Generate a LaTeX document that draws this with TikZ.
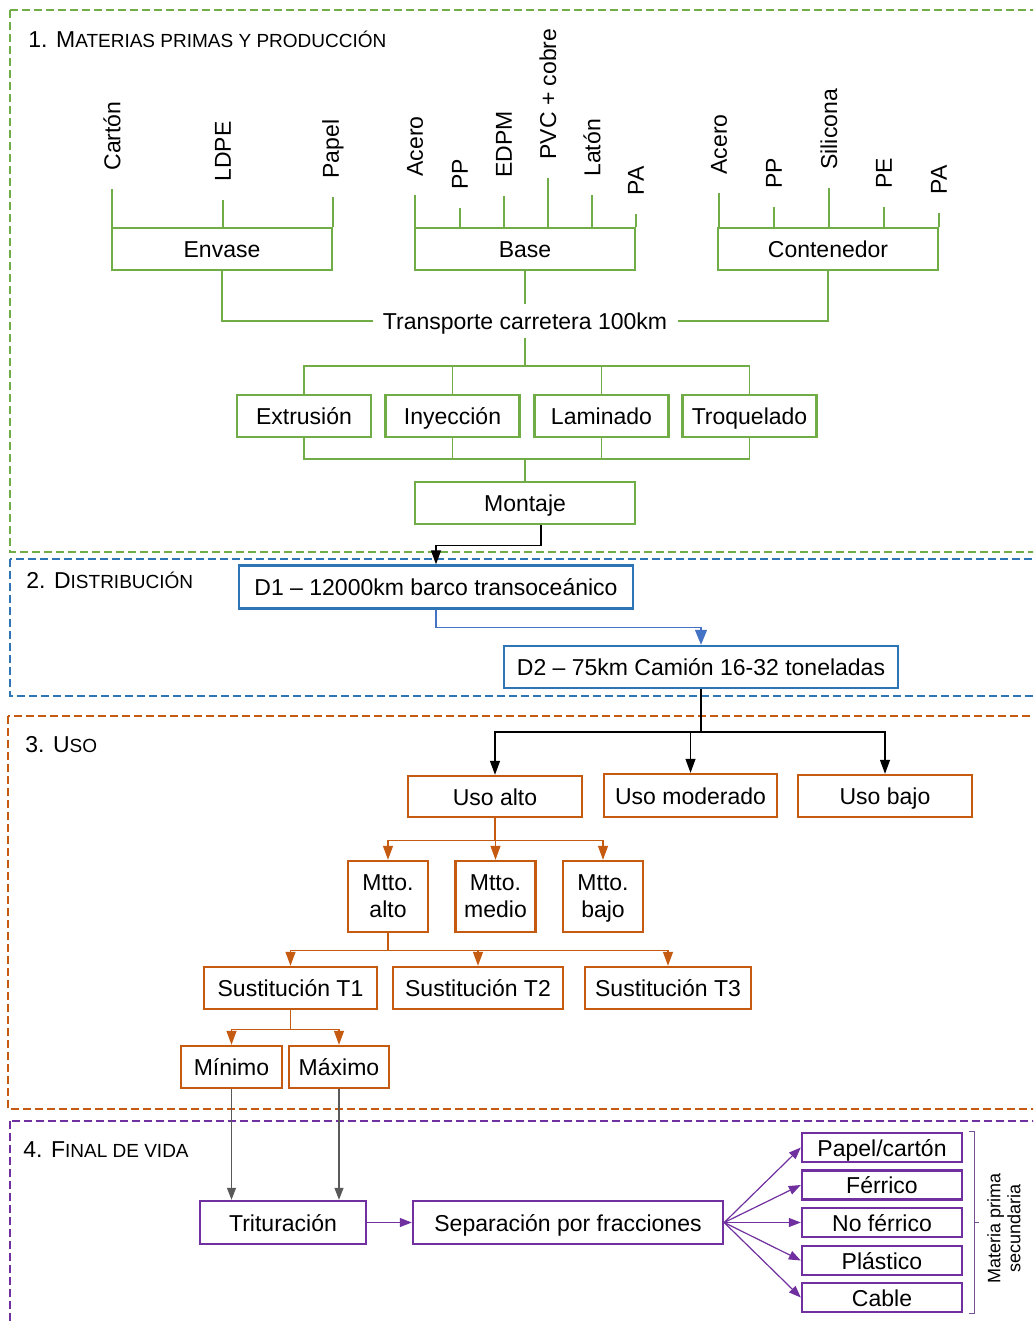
\documentclass[tikz,border=0pt]{standalone}
\usepackage{fontspec}
\setmainfont{Liberation Sans}
\usetikzlibrary{arrows.meta}

\definecolor{grn}{RGB}{112,173,71}
\definecolor{blu}{RGB}{46,117,182}
\definecolor{lblu}{RGB}{68,114,196}
\definecolor{org}{RGB}{197,90,17}
\definecolor{pur}{RGB}{112,48,160}
\definecolor{gry}{RGB}{89,89,89}

\newcommand{\scf}{\fontsize{9.5}{11}\selectfont}

\tikzset{
          zone/.style = {draw = #1, line width = 1pt, dash pattern = on 4pt off 2pt},
          box/.style = {draw = #1, line width = 1.2pt, fill = white, inner sep = 0pt,
                        minimum height = 21pt, align = center, text height = 9.5pt, text depth = 0.8pt,
                        font = \fontsize{11.5}{13.5}\selectfont},
          wire/.style = {draw = #1, line width = 0.6pt},
          tip/.style = {-{Triangle[width=5pt,length=7pt]}},
          mat/.style = {rotate = 90, anchor = west, inner xsep = 9pt, inner ysep = 0pt,
                        font = \fontsize{11.5}{13.5}\selectfont},
          head/.style = {anchor = base west, inner sep = 0pt, font = \fontsize{11.5}{13.5}\selectfont}
        }

\begin{document}
\begin{tikzpicture}[x=0.5pt,y=-0.5pt]
          \useasboundingbox (0,0) rectangle (1033,1322);
          \clip (0,0) rectangle (1033,1322);

          % zones
          \draw[zone=grn] (10,10) rectangle (1050,552);
          \draw[zone=blu] (10,559) rectangle (1050,696);
          \draw[zone=org] (8,716) rectangle (1050,1109);
          \draw[zone=pur] (10,1121) rectangle (1050,1340);

          \node[head] (h1) at (28,48) {1. M{\scf ATERIAS PRIMAS Y PRODUCCIÓN}};
          \node[head] (h2) at (26,588) {2. D{\scf ISTRIBUCIÓN}};
          \node[head] (h3) at (25,752) {3. U{\scf SO}};
          \node[head] (h4) at (23,1157) {4. F{\scf INAL DE VIDA}};

          % 1. materias primas y produccion
          \node[box=grn, minimum width=110pt] (env)  at (222,249) {Envase};
          \node[box=grn, minimum width=110pt] (base) at (525,249) {Base};
          \node[box=grn, minimum width=110pt] (cont) at (828,249) {Contenedor};

          \foreach \t/\x/\y in {Cartón/112/189, LDPE/223/200, Papel/333/197}{
            \node[mat] (m\x) at (\x,\y) {\t};
            \draw[wire=grn] (m\x.west) -- (m\x.west |- env.north);
          }
          \foreach \t/\x/\y in {Acero/415/195, PP/460/208, EDPM/504/196,
                                PVC + cobre/548/178, Latón/592/195, PA/636/214}{
            \node[mat] (m\x) at (\x,\y) {\t};
            \draw[wire=grn] (m\x.west) -- (m\x.west |- base.north);
          }
          \foreach \t/\x/\y in {Acero/719/193, PP/774/207, Silicona/829/188,
                                PE/884/207, PA/939/213}{
            \node[mat] (m\x) at (\x,\y) {\t};
            \draw[wire=grn] (m\x.west) -- (m\x.west |- cont.north);
          }

          \node[inner xsep=5pt, inner ysep=3pt, text height=9.5pt, text depth=0.8pt,
                font=\fontsize{11.5}{13.5}\selectfont]
               (trans) at (525,321) {Transporte carretera 100km};
          \draw[wire=grn] (env.south) |- (trans.west);
          \draw[wire=grn] (cont.south) |- (trans.east);
          \draw[wire=grn] (base.south) -- (trans.north);

          \foreach \n/\t/\x in {ext/Extrusión/304, iny/Inyección/452.5,
                                lam/Laminado/601.5, tro/Troquelado/749.5}{
            \node[box=grn, minimum width=67pt] (\n) at (\x,416) {\t};
          }
          \node[box=grn, minimum width=110pt] (mon) at (525,503) {Montaje};

          \coordinate (fan)  at (525,366);
          \coordinate (join) at (525,459);
          \draw[wire=grn] (trans.south) -- (fan);
          \draw[wire=grn] (ext.north) |- (fan) -| (tro.north);
          \draw[wire=grn] (iny.north) -- (iny.north |- fan);
          \draw[wire=grn] (lam.north) -- (lam.north |- fan);
          \draw[wire=grn] (ext.south) |- (join) -| (tro.south);
          \draw[wire=grn] (iny.south) -- (iny.south |- join);
          \draw[wire=grn] (lam.south) -- (lam.south |- join);
          \draw[wire=grn] (join) -- (mon.north);

          % 2. distribucion
          \node[box=blu, minimum width=197pt, minimum height=21.5pt] (d1) at (436,587)
               {D1 -- 12000km barco transoceánico};
          \node[box=blu, minimum width=197pt] (d2) at (701,667)
               {D2 -- 75km Camión 16-32 toneladas};
          \draw[wire=black, tip] ([xshift=8pt]mon.south) -- ++(0,20) -| (d1.north);
          \draw[wire=lblu, -{Triangle[width=6pt,length=7.5pt]}]
               (d1.south) -- ++(0,18) -| (d2.north);

          % 3. uso
          \node[box=org, minimum width=87pt, minimum height=20.5pt]   (ualto) at (495,796.5) {Uso alto};
          \node[box=org, minimum width=86.5pt, minimum height=21.5pt] (umod)  at (690.5,795.5) {Uso moderado};
          \node[box=org, minimum width=87pt]                          (ubajo) at (885,796) {Uso bajo};

          \coordinate (ufan) at (701,732);
          \draw[black, line width=1pt] (d2.south) -- (ufan);
          \draw[wire=black, tip] (ufan) -| (ualto.north);
          \draw[wire=black, tip] (ufan) -| (ubajo.north);
          \draw[wire=black, tip] (umod.north |- ufan) -- (umod.north);

          \foreach \n/\t/\x in {malto/alto/388, mmed/medio/495.5, mbajo/bajo/603}{
            \node[box=org, minimum width=40pt, minimum height=35.5pt, text height={}, text depth={}]
                 (\n) at (\x,896.5) {\vphantom{Ó}Mtto.\\\t\vphantom{j}};
          }
          \draw[wire=org] (ualto.south) -- ++(0,22) coordinate (mfan);
          \draw[wire=org, tip] (mfan) -| (malto.north);
          \draw[wire=org, tip] (mfan) -| (mbajo.north);
          \draw[wire=org, tip] (mmed.north |- mfan) -- (mmed.north);

          \node[box=org, minimum width=86.5pt] (s1) at (290.5,988) {Sustitución T1};
          \node[box=org, minimum width=85pt]   (s2) at (478,988)   {Sustitución T2};
          \node[box=org, minimum width=83pt]   (s3) at (668,988)   {Sustitución T3};
          \draw[wire=org] (malto.south) -- ++(0,17) coordinate (sfan);
          \draw[wire=org, tip] (sfan) -| (s1.north);
          \draw[wire=org, tip] (sfan) -| (s3.north);
          \draw[wire=org, tip] (s2.north |- sfan) -- (s2.north);

          \node[box=org, minimum width=50.5pt] (mini) at (231.5,1067) {Mínimo};
          \node[box=org, minimum width=50pt]   (maxi) at (339,1067)   {Máximo};
          \draw[wire=org] (s1.south) -- ++(0,19) coordinate (tfan);
          \draw[wire=org, tip] (tfan) -| (mini.north);
          \draw[wire=org, tip] (tfan) -| (maxi.north);

          % 4. final de vida
          \node[box=pur, minimum width=83pt, minimum height=21.5pt]  (trit) at (283,1222.5) {Trituración};
          \node[box=pur, minimum width=155pt, minimum height=21.5pt] (sep)  at (568,1222.5) {Separación por fracciones};
          \draw[wire=gry, -{Triangle[width=4.5pt,length=6pt]}] (mini.south) -- (mini.south |- trit.north);
          \draw[wire=gry, -{Triangle[width=4.5pt,length=6pt]}] (maxi.south) -- (maxi.south |- trit.north);
          \draw[wire=pur, -{Triangle[width=4.5pt,length=6pt]}] (trit.east) -- (sep.west);

          \foreach \n/\t/\y in {pap/Papel\slash cartón/1147.5, fer/Férrico/1185,
                                nof/No férrico/1222.5, pla/Plástico/1260.5, cab/Cable/1297.5}{
            \node[box=pur, minimum width=80pt, minimum height=14.5pt] (\n) at (882,\y) {\t};
            \draw[wire=pur, -{Triangle[width=4.5pt,length=6pt]}] (sep.east) -- (\n.west);
          }

          \draw[draw=pur!60!gray, line width=0.6pt] ([xshift=3pt]pap.north east) -- ++(5,0) coordinate (brt)
               -- (brt |- cab.south east) -- ++(-5,0);
          \draw[draw=pur!60!gray, line width=0.6pt] (brt |- nof.east) -- ++(5,0);
          \node[rotate=90, align=center, font=\fontsize{9}{10}\selectfont] (msec) at (1004,1228)
               {Materia prima\\secundaria};
        \end{tikzpicture}
\end{document}
